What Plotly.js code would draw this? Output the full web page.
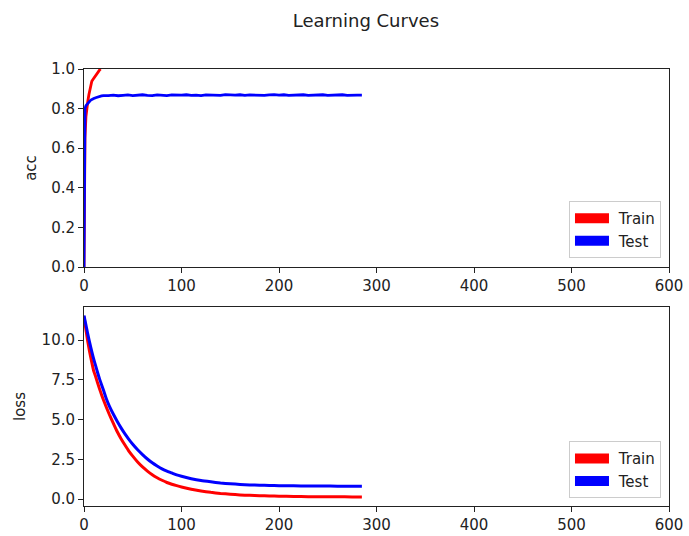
<!DOCTYPE html>
<html>
<head>
<meta charset="utf-8">
<script src="https://cdn.plot.ly/plotly-3.0.1.min.js"></script>
<style>html,body{margin:0;padding:0;background:#fff;}#chart{width:689px;height:536px;}</style>
</head>
<body>
<div id="chart"></div>
<script>
// ---- data ----
const trainAccEpochs = [0,1,2,3,4,5,6,7,8,9,10,11,12,13,14,15,16,17];
const trainAcc = [0,0.65,0.76,0.81,0.84,0.87,0.90,0.92,0.938,0.946,0.952,0.958,0.964,0.971,0.979,0.988,0.995,1.0];

const testAccEpochs = [0,1,2,3,4,5,6,7,8,10,12,14,16,18,20,22,25,30,35,40,45,50,55,60,65,70,75,80,85,90,95,100,105,110,115,120,125,130,135,140,145,150,155,160,165,170,175,180,185,190,195,200,205,210,215,220,225,230,235,240,245,250,255,260,265,270,275,280,285];
const testAcc = [0,0.80,0.815,0.822,0.828,0.834,0.838,0.843,0.847,0.851,0.855,0.859,0.862,0.864,0.866,0.865,0.866,0.868,0.865,0.867,0.869,0.866,0.868,0.870,0.867,0.866,0.869,0.868,0.866,0.869,0.867,0.868,0.870,0.867,0.868,0.866,0.869,0.868,0.870,0.867,0.871,0.869,0.868,0.870,0.867,0.869,0.868,0.870,0.867,0.869,0.871,0.868,0.870,0.867,0.869,0.868,0.870,0.867,0.869,0.868,0.870,0.867,0.869,0.868,0.870,0.867,0.869,0.868,0.868];

const lossEpochs = [0,1,2,3,4,5,6,8,10,12,14,16,18,20,23,26,30,34,38,42,46,50,55,60,65,70,75,80,85,90,95,100,110,120,130,140,150,160,170,180,190,200,215,230,245,260,275,285];
const trainLoss = [11.5,11.05,10.65,10.25,9.87,9.52,9.2,8.6,8.05,7.7,7.3,6.92,6.57,6.23,5.76,5.32,4.78,4.25,3.8,3.4,3.02,2.7,2.33,2.02,1.76,1.53,1.34,1.18,1.04,0.93,0.84,0.76,0.62,0.51,0.42,0.35,0.30,0.26,0.23,0.21,0.19,0.18,0.16,0.15,0.14,0.14,0.13,0.13];
const testLoss = [11.55,11.25,10.95,10.65,10.35,10.07,9.8,9.28,8.8,8.38,7.95,7.55,7.2,6.85,6.3,5.85,5.35,4.9,4.48,4.1,3.76,3.45,3.1,2.8,2.52,2.28,2.08,1.9,1.76,1.64,1.52,1.43,1.28,1.16,1.08,1.01,0.96,0.92,0.89,0.87,0.85,0.84,0.83,0.82,0.82,0.81,0.81,0.81];

const seriesNames = ['Train','Test'];
const seriesColors = ['#ff0000','#0000ff'];
const xTicks = [0,100,200,300,400,500,600];
const accTicks = [0,0.2,0.4,0.6,0.8,1.0];
const lossTicks = [0,2.5,5,7.5,10];

const FONT = 'DejaVu Sans, sans-serif';
const AX = '#222';

const traces = [
  {x: trainAccEpochs, y: trainAcc, mode:'lines', line:{color:seriesColors[0], width:2.8}, xaxis:'x', yaxis:'y', showlegend:false, name:seriesNames[0]},
  {x: testAccEpochs, y: testAcc, mode:'lines', line:{color:seriesColors[1], width:2.8}, xaxis:'x', yaxis:'y', showlegend:false, name:seriesNames[1]},
  {x: lossEpochs, y: trainLoss, mode:'lines', line:{color:seriesColors[0], width:3, shape:'spline', smoothing:0.5}, xaxis:'x2', yaxis:'y2', showlegend:false, name:seriesNames[0]},
  {x: lossEpochs, y: testLoss, mode:'lines', line:{color:seriesColors[1], width:3, shape:'spline', smoothing:0.5}, xaxis:'x2', yaxis:'y2', showlegend:false, name:seriesNames[1]},
  // legend entries
  {x:[null], y:[null], mode:'lines', line:{color:seriesColors[0], width:12}, xaxis:'x', yaxis:'y', name:'\u00a0' + seriesNames[0], legend:'legend', hoverinfo:'skip'},
  {x:[null], y:[null], mode:'lines', line:{color:seriesColors[1], width:12}, xaxis:'x', yaxis:'y', name:'\u00a0' + seriesNames[1], legend:'legend', hoverinfo:'skip'},
  {x:[null], y:[null], mode:'lines', line:{color:seriesColors[0], width:12}, xaxis:'x2', yaxis:'y2', name:'\u00a0' + seriesNames[0], legend:'legend2', hoverinfo:'skip'},
  {x:[null], y:[null], mode:'lines', line:{color:seriesColors[1], width:12}, xaxis:'x2', yaxis:'y2', name:'\u00a0' + seriesNames[1], legend:'legend2', hoverinfo:'skip'}
];

function xax(anchor){
  return {domain:[0,1], anchor:anchor, range:[0,600], tickvals:xTicks, ticks:'outside', ticklen:5, tickwidth:1, tickcolor:AX,
    showline:true, mirror:true, linecolor:AX, linewidth:1, showgrid:false, zeroline:false,
    tickfont:{family:FONT, size:15, color:AX}};
}
function yax(anchor, domain, range, ticks, title, standoff){
  return {domain:domain, anchor:anchor, range:range, tickvals:ticks, tickformat:'.1f', ticks:'outside', ticklen:5, tickwidth:1, tickcolor:AX,
    showline:true, mirror:true, linecolor:AX, linewidth:1, showgrid:false, zeroline:false,
    tickfont:{family:FONT, size:15, color:AX},
    title:{text:title, font:{family:FONT, size:15, color:AX}, standoff:standoff}};
}
const legendStyle = {xref:'paper', yref:'paper', xanchor:'right', yanchor:'bottom', bgcolor:'rgba(255,255,255,0.8)', bordercolor:'#cccccc', borderwidth:1,
  font:{family:FONT, size:15, color:AX}, itemwidth:34, tracegroupgap:0};

const layout = {
  width:689, height:536,
  margin:{l:84, r:20, t:69, b:30},
  paper_bgcolor:'#fff', plot_bgcolor:'#fff',
  font:{family:FONT, color:AX},
  title:{text:'Learning Curves', x:0.531, xref:'container', xanchor:'center', y:0.962, yref:'container', yanchor:'middle', font:{family:FONT, size:18, color:AX}},
  xaxis: xax('y'),
  yaxis: yax('x', [0.5469,1], [0,1], accTicks, 'acc', 10),
  xaxis2: xax('y2'),
  yaxis2: yax('x2', [0,0.4554], [-0.44,12.09], lossTicks, 'loss', 12),
  legend: Object.assign({x:0.9863, y:0.5675}, legendStyle),
  legend2: Object.assign({x:0.9863, y:0.018}, legendStyle),
  showlegend:true
};

Plotly.newPlot('chart', traces, layout, {staticPlot:true, displayModeBar:false});
</script>
</body>
</html>
